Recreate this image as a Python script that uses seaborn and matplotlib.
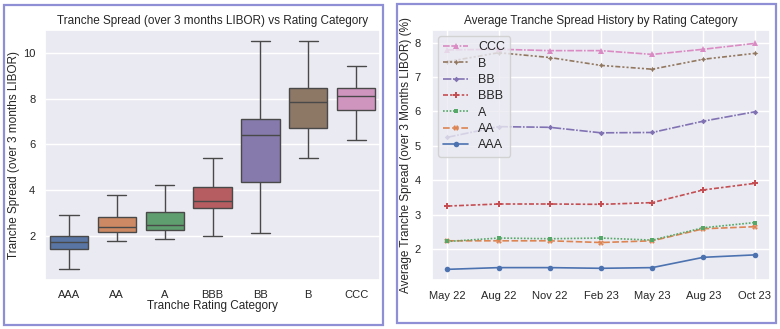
import matplotlib
matplotlib.use("Agg")
import matplotlib.pyplot as plt
from matplotlib.patches import Rectangle
import pandas as pd
import seaborn as sns

# Rating categories, best to worst
ratings = ["AAA", "AA", "A", "BBB", "BB", "B", "CCC"]

# Spread distribution per rating (% over 3M LIBOR)
spread_min = [0.57, 1.76, 1.88, 2.00, 2.14, 5.43, 6.18]
spread_q1 = [1.41, 2.17, 2.25, 3.21, 4.35, 6.72, 7.49]
spread_median = [1.73, 2.40, 2.46, 3.54, 6.42, 7.84, 8.11]
spread_q3 = [2.00, 2.84, 3.04, 4.12, 7.12, 8.47, 8.47]
spread_max = [2.90, 3.77, 4.24, 5.43, 10.51, 10.51, 9.45]

# Average spread history per rating
dates = ["May 22", "Aug 22", "Nov 22", "Feb 23", "May 23", "Aug 23", "Oct 23"]
hist_aaa = [1.41, 1.46, 1.46, 1.44, 1.46, 1.76, 1.83]
hist_aa = [2.24, 2.24, 2.24, 2.19, 2.24, 2.59, 2.65]
hist_a = [2.22, 2.32, 2.30, 2.32, 2.26, 2.62, 2.77]
hist_bbb = [3.25, 3.31, 3.31, 3.30, 3.35, 3.72, 3.91]
hist_bb = [5.25, 5.56, 5.54, 5.38, 5.39, 5.72, 5.99]
hist_b = [7.45, 7.71, 7.57, 7.34, 7.23, 7.52, 7.69]
hist_ccc = [7.79, 7.81, 7.77, 7.77, 7.66, 7.81, 7.98]
history = [hist_aaa, hist_aa, hist_a, hist_bbb, hist_bb, hist_b, hist_ccc]

sns.set_theme(style="darkgrid")
plt.rcParams["font.family"] = ["Liberation Sans", "DejaVu Sans"]

box_rows = []
for i, r in enumerate(ratings):
    for v in (spread_min[i], spread_q1[i], spread_median[i], spread_q3[i], spread_max[i]):
        box_rows.append({"rating": r, "spread": v})
box_df = pd.DataFrame(box_rows)

line_rows = []
for r, vals in zip(ratings, history):
    for d, v in zip(dates, vals):
        line_rows.append({"date": d, "rating": r, "spread": v})
line_df = pd.DataFrame(line_rows)

fig = plt.figure(figsize=(7.8, 3.29), dpi=100)
fig.patch.set_facecolor("white")

# Panel frames
frame_color = "#8f8fd6"
fig.add_artist(Rectangle((4 / 780, 4 / 329), 379 / 780, 320 / 329, transform=fig.transFigure,
                         fill=False, edgecolor=frame_color, linewidth=1.6))
fig.add_artist(Rectangle((397 / 780, 6 / 329), 379 / 780, 319 / 329, transform=fig.transFigure,
                         fill=False, edgecolor=frame_color, linewidth=1.6))

fs = 8

# Left: box plot of spreads by rating
ax1 = fig.add_axes([45 / 780, 49 / 329, 335 / 780, 250 / 329])
sns.boxplot(data=box_df, x="rating", y="spread", hue="rating", order=ratings,
            hue_order=ratings, palette="deep", whis=(0, 100), legend=False, ax=ax1)
ax1.set_title("Tranche Spread (over 3 months LIBOR) vs Rating Category", fontsize=fs + 0.5, pad=4)
ax1.set_xlabel("Tranche Rating Category", fontsize=fs + 0.5, labelpad=0)
ax1.set_ylabel("Tranche Spread (over 3 months LIBOR)", fontsize=fs + 0.5, labelpad=2)
ax1.set_yticks([2, 4, 6, 8, 10])
ax1.tick_params(labelsize=fs, pad=1)

# Right: spread history by rating
ax2 = fig.add_axes([432 / 780, 49 / 329, 338 / 780, 250 / 329])
sns.lineplot(data=line_df, x="date", y="spread", hue="rating", style="rating",
             hue_order=ratings, style_order=ratings, palette="deep",
             markers=True, dashes=True, markersize=4, markeredgewidth=0,
             linewidth=1.2, ax=ax2)
ax2.set_title("Average Tranche Spread History by Rating Category", fontsize=fs + 0.5, pad=4)
ax2.set_xlabel("")
ax2.set_ylabel("Average Tranche Spread (over 3 Months LIBOR) (%)", fontsize=fs + 0.5, labelpad=2)
ax2.set_yticks([2, 3, 4, 5, 6, 7, 8])
ax2.set_ylim(1.1, 8.37)
ax2.tick_params(labelsize=fs, pad=2)
handles, labels = ax2.get_legend_handles_labels()
ax2.legend(handles[::-1], labels[::-1], loc="upper left", fontsize=fs + 1,
           borderpad=0.4, labelspacing=0.35, handlelength=2.0)

fig.savefig("out.png", dpi=100)
